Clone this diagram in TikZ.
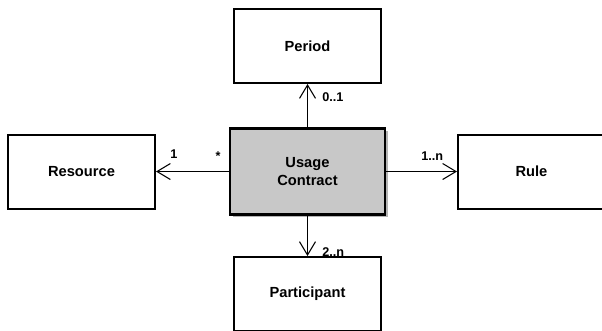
\documentclass[tikz,border=0pt]{standalone}
\usepackage{fontspec}
\setmainfont{Liberation Sans}
\usetikzlibrary{arrows.meta}
\begin{document}
\begin{tikzpicture}[x=0.75pt,y=-0.75pt,
  cls/.style={draw=black, line width=1.5pt, fill=white, minimum width=147*0.75pt, minimum height=74*0.75pt, inner sep=0pt, font=\fontsize{11}{13.5}\selectfont\bfseries, align=center},
  main/.style={cls, fill=boxgray, minimum width=155*0.75pt, minimum height=86*0.75pt, line width=1.8pt},
  assoc/.style={draw=black, line width=0.8pt, -{Straight Barb[length=10pt, width=12pt, line width=0.8pt]}},
  mult/.style={font=\fontsize{9.5}{11}\selectfont\bfseries, inner sep=0pt, anchor=base west}
]
\definecolor{boxgray}{HTML}{C8C8C8}
\definecolor{shadowgray}{HTML}{B4B4B4}
\clip (0,0) rectangle (602,330);
\useasboundingbox (0,0) rectangle (602,330);
\fill[white] (0,0) rectangle (602,330);

% shadow of main box
\fill[shadowgray] (233,131) rectangle (388,217);

\node[main] (usage) at (307.5,171.5) {Usage\\Contract};
\node[cls] (period) at (307.5,46) {Period};
\node[cls] (resource) at (81.5,171.5) {Resource};
\node[cls] (rule) at (531.5,171.5) {Rule};
\node[cls] (participant) at (307.5,294) {Participant};

\draw[assoc] (usage) -- (period);
\draw[assoc] (usage) -- (resource);
\draw[assoc] (usage) -- (rule);
\draw[assoc] (usage) -- (participant);

\node[mult] (m01) at (322,101) {0..1};
\node[mult, anchor=base] (m1) at (174,158) {1};
\node[mult, anchor=base] (mstar) at (218,160) {*};
\node[mult] (m1n) at (421,160) {1..n};
\node[mult] (m2n) at (322,256) {2..n};
\end{tikzpicture}
\end{document}
